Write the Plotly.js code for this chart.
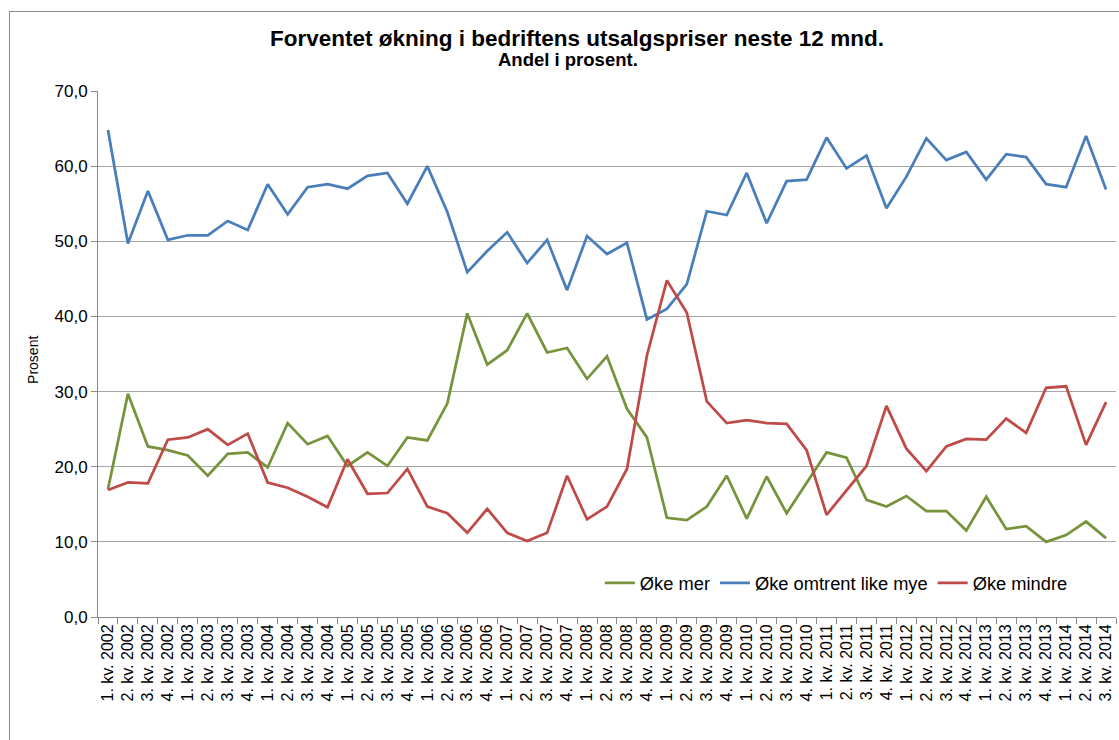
<!DOCTYPE html>
<html>
<head>
<meta charset="utf-8">
<script src="https://cdn.plot.ly/plotly-3.0.1.min.js"></script>
<style>
  html, body { margin: 0; padding: 0; background: #fff; overflow: hidden; width: 1119px; height: 740px; }
  #frame { position: absolute; left: 9px; top: 11px; width: 2000px; height: 2000px;
           border-left: 1px solid #8c8c8c; border-top: 1px solid #8c8c8c; z-index: 0; }
  #chart { position: absolute; left: 0; top: 0; width: 1119px; height: 740px; z-index: 1; }
</style>
</head>
<body>
<div id="frame"></div>
<div id="chart"></div>
<script>
const categories = [
  "1. kv. 2002","2. kv. 2002","3. kv. 2002","4. kv. 2002",
  "1. kv. 2003","2. kv. 2003","3. kv. 2003","4. kv. 2003",
  "1. kv. 2004","2. kv. 2004","3. kv. 2004","4. kv. 2004",
  "1. kv. 2005","2. kv. 2005","3. kv. 2005","4. kv. 2005",
  "1. kv. 2006","2. kv. 2006","3. kv. 2006","4. kv. 2006",
  "1. kv. 2007","2. kv. 2007","3. kv. 2007","4. kv. 2007",
  "1. kv. 2008","2. kv. 2008","3. kv. 2008","4. kv. 2008",
  "1. kv. 2009","2. kv. 2009","3. kv. 2009","4. kv. 2009",
  "1. kv. 2010","2. kv. 2010","3. kv. 2010","4. kv. 2010",
  "1. kv. 2011","2. kv. 2011","3. kv. 2011","4. kv. 2011",
  "1. kv. 2012","2. kv. 2012","3. kv. 2012","4. kv. 2012",
  "1. kv. 2013","2. kv. 2013","3. kv. 2013","4. kv. 2013",
  "1. kv. 2014","2. kv. 2014","3. kv. 2014"
];

const okeMer = [17.0, 29.7, 22.7, 22.2, 21.5, 18.8, 21.7, 21.9, 19.9, 25.8,
                23.0, 24.1, 20.1, 21.9, 20.1, 23.9, 23.5, 28.4, 40.4, 33.6,
                35.5, 40.4, 35.2, 35.8, 31.7, 34.7, 27.7, 23.9, 13.2, 12.9,
                14.7, 18.8, 13.1, 18.7, 13.8, 17.9, 21.9, 21.2, 15.6, 14.7,
                16.1, 14.1, 14.1, 11.5, 16.0, 11.7, 12.1, 10.0, 10.9, 12.7, 10.5];

const okeLike = [64.8, 49.7, 56.7, 50.2, 50.8, 50.8, 52.7, 51.5, 57.6, 53.6,
                 57.2, 57.6, 57.0, 58.7, 59.1, 55.0, 60.0, 53.9, 45.9, 48.7,
                 51.2, 47.1, 50.2, 43.5, 50.7, 48.3, 49.8, 39.6, 41.0, 44.3,
                 54.0, 53.5, 59.1, 52.4, 58.0, 58.2, 63.8, 59.7, 61.4, 54.4,
                 58.6, 63.7, 60.8, 61.9, 58.2, 61.6, 61.2, 57.6, 57.2, 64.0, 56.9];

const okeMindre = [16.9, 17.9, 17.8, 23.6, 23.9, 25.0, 22.9, 24.4, 17.9, 17.2,
                   16.0, 14.6, 21.0, 16.4, 16.5, 19.7, 14.7, 13.8, 11.2, 14.4,
                   11.2, 10.1, 11.2, 18.8, 13.0, 14.7, 19.7, 34.8, 44.8, 40.5,
                   28.7, 25.8, 26.2, 25.8, 25.7, 22.2, 13.6, 16.8, 20.1, 28.1,
                   22.4, 19.4, 22.7, 23.7, 23.6, 26.4, 24.5, 30.5, 30.7, 22.9, 28.6];

const seriesNames = ["Øke mer", "Øke omtrent like mye", "Øke mindre"];
const seriesColors = ["#77933C", "#4A7EBB", "#BE4B48"];
const seriesValues = [okeMer, okeLike, okeMindre];

const font = "Liberation Sans, Arial, sans-serif";

const traces = seriesValues.map((vals, k) => ({
  type: "scatter",
  mode: "lines",
  x: categories,
  y: vals,
  name: seriesNames[k],
  line: { color: seriesColors[k], width: 2.75 },
  hoverinfo: "x+y+name"
}));

const layout = {
  width: 1119,
  height: 740,
  margin: { l: 98, r: 3, t: 91, b: 123 },
  paper_bgcolor: "rgba(0,0,0,0)",
  plot_bgcolor: "rgba(0,0,0,0)",
  separators: ", ",
  font: { family: font, color: "#000" },
  title: {
    text: "<b>Forventet økning i bedriftens utsalgspriser neste 12 mnd.</b>",
    font: { family: font, size: 22.5, color: "#000" },
    x: 0.5156, xanchor: "center",
    y: 0.9486, yanchor: "middle", xref: "container", yref: "container"
  },
  annotations: [{
    text: "<b>Andel i prosent.</b>",
    xref: "paper", yref: "paper",
    x: 0.462, y: 1.059, xanchor: "center", yanchor: "middle",
    showarrow: false,
    font: { family: font, size: 18.5, color: "#000" }
  }, {
    text: "Prosent",
    xref: "paper", yref: "paper",
    x: -0.0639, y: 0.4886, xanchor: "center", yanchor: "middle",
    textangle: -90,
    showarrow: false,
    font: { family: font, size: 14, color: "#000" }
  }],
  xaxis: {
    type: "category",
    range: [-0.5, categories.length - 0.5],
    showgrid: false,
    showline: true, linecolor: "#888", linewidth: 1,
    ticks: "outside", tickson: "boundaries", ticklen: 6, tickcolor: "#888",
    tickangle: -90,
    tickfont: { family: font, size: 16, color: "#000" },
    fixedrange: true
  },
  yaxis: {
    range: [0, 70],
    dtick: 10,
    tickformat: ".1f",
    showgrid: true, gridcolor: "#A6A6A6", gridwidth: 1,
    zeroline: false,
    showline: true, linecolor: "#888", linewidth: 1,
    ticks: "outside", ticklen: 6, tickcolor: "#888",
    tickfont: { family: font, size: 17, color: "#000" },
    fixedrange: true
  },
  legend: {
    orientation: "h",
    x: 0.493, xanchor: "left",
    y: 0.0646, yanchor: "middle",
    bgcolor: "rgba(0,0,0,0)",
    font: { family: font, size: 18.3, color: "#000" },
    itemwidth: 30
  },
  showlegend: true
};

Plotly.newPlot("chart", traces, layout, { displayModeBar: false, staticPlot: true });
</script>
</body>
</html>
